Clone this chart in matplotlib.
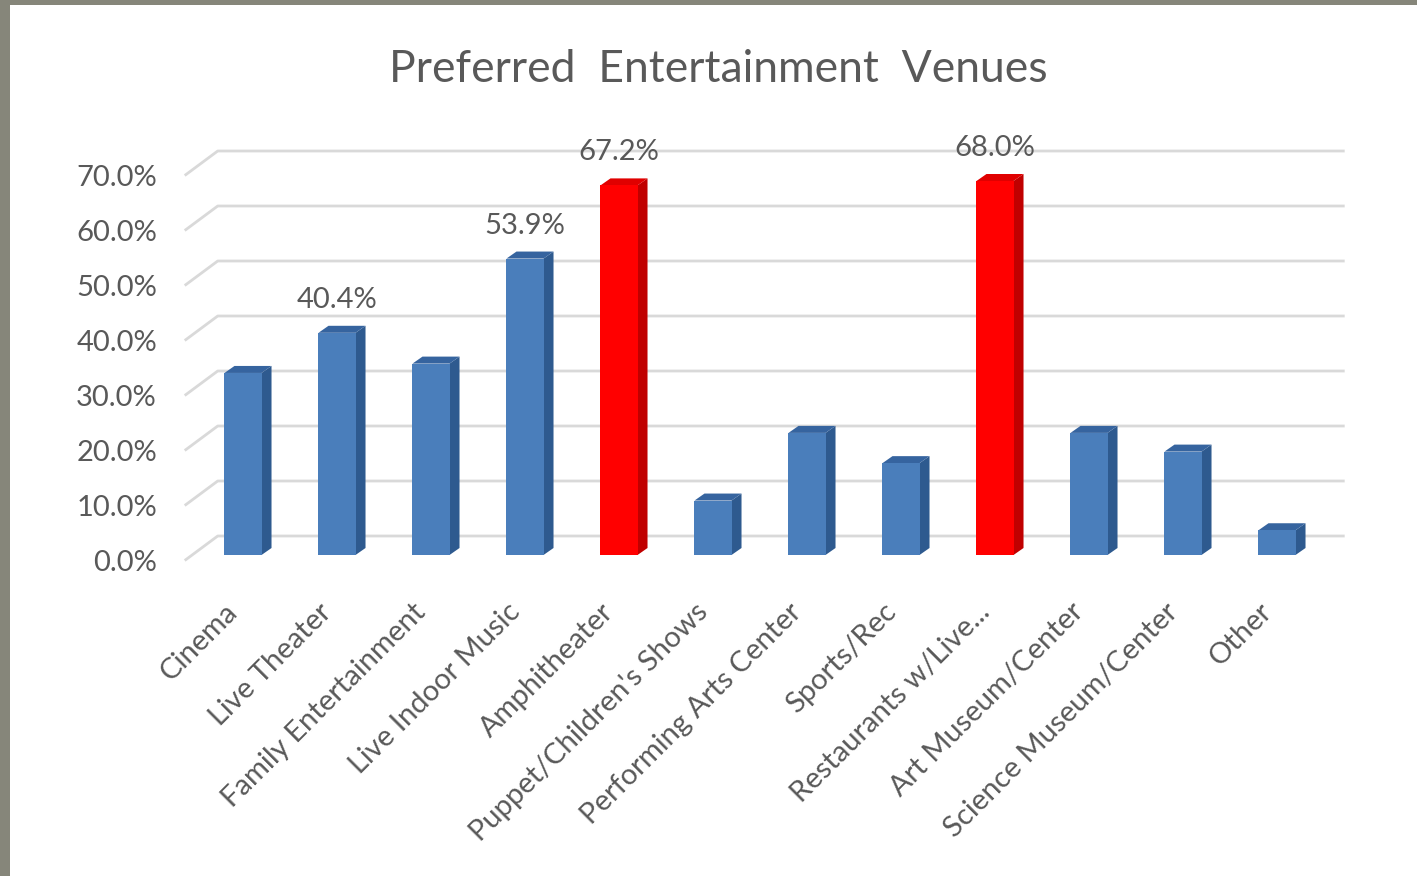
import numpy as np
import matplotlib
matplotlib.use('Agg')
import matplotlib.pyplot as plt
from matplotlib.patches import Polygon, Rectangle

plt.rcParams['font.family'] = ['Lato', 'DejaVu Sans']

venues = ['Cinema', 'Live Theater', 'Family Entertainment', 'Live Indoor Music',
          'Amphitheater', "Puppet/Children's Shows", 'Performing Arts Center',
          'Sports/Rec', 'Restaurants w/Live...', 'Art Museum/Center',
          'Science Museum/Center', 'Other']
share = [33.1, 40.4, 34.8, 53.9, 67.2, 9.9, 22.2, 16.7, 68.0, 22.2, 18.8, 4.5]
labeled = ['Live Theater', 'Live Indoor Music', 'Amphitheater', 'Restaurants w/Live...']
highlight = ['Amphitheater', 'Restaurants w/Live...']
yticks = [0, 10, 20, 30, 40, 50, 60, 70]

TXT = '#595959'
GRID = '#d9d9d9'
BLUE = ('#4a7ebb', '#2e5a8f', '#36649f')   # front, side, top
RED = ('#ff0000', '#c00000', '#e00000')
FS = 21

W, H = 1417, 876
fig = plt.figure(figsize=(W / 100, H / 100), dpi=100, facecolor='#86867a')
# white chart area inside the grey frame
fig.patches.append(Rectangle((10 / W, 0), 1, 1 - 5 / H, transform=fig.transFigure,
                             facecolor='white', edgecolor='none', zorder=-5))

# 94 px per category, 5.5 px per percent; category 0 sits at x=243, 0% at y=555
x0, x1 = -0.65, 11.78
y0, y1 = -1.0, 77.0
ax = fig.add_axes([(243 + x0 * 94) / W, (H - 555 - 5.5) / H,
                   (x1 - x0) * 94 / W, (y1 - y0) * 5.5 / H])
ax.set_xlim(x0, x1)
ax.set_ylim(y0, y1)
ax.axis('off')

# depth of the 3d look, in data units
bdx, bdy = 10 / 94, 7 / 5.5          # bar side / top
wdx, wdy = 33 / 94, 24.5 / 5.5       # floor -> back wall
hw = 0.197

# back wall gridlines with their slanted floor segment
for v in yticks:
    fy = v - 1.0
    ax.plot([x0 + 0.03, x0 + 0.03 + wdx, 11.72], [fy, fy + wdy, fy + wdy],
            color=GRID, lw=2, solid_capstyle='butt', zorder=1, clip_on=False)
    ax.text(-0.915, v - 1.45, '%.1f%%' % v, ha='right', va='center',
            fontsize=FS, color=TXT)

for i, (name, v) in enumerate(zip(venues, share)):
    front, side, top = RED if name in highlight else BLUE
    l, r = i - hw, i + hw
    ax.add_patch(Polygon([(r, 0), (r + bdx, bdy), (r + bdx, v + bdy), (r, v)],
                         closed=True, facecolor=side, edgecolor='none', zorder=3))
    ax.add_patch(Polygon([(l, v), (r, v), (r + bdx, v + bdy), (l + bdx, v + bdy)],
                         closed=True, facecolor=top, edgecolor='none', zorder=3))
    ax.add_patch(Rectangle((l, 0), 2 * hw, v, facecolor=front,
                           edgecolor='none', zorder=4))
    if name in labeled:
        ax.text(i, v + 6.0, '%.1f%%' % v, ha='center', va='center',
                fontsize=FS, color=TXT, zorder=5)
    ax.text(i - 0.1, -9.6, name, rotation=45, rotation_mode='anchor',
            ha='right', va='center', fontsize=FS, color=TXT, clip_on=False)

fig.text(718 / W, 1 - 70 / H, 'Preferred  Entertainment  Venues', ha='center',
         va='center', fontsize=32, color=TXT)

fig.savefig('out.png', dpi=100, facecolor=fig.get_facecolor())
